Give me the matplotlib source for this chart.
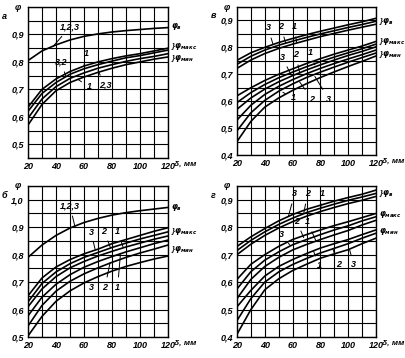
import numpy as np
import matplotlib.pyplot as plt

plt.rcParams['font.family'] = ['Liberation Sans Narrow', 'Liberation Sans', 'DejaVu Sans']
plt.rcParams['font.style'] = 'italic'
plt.rcParams['font.weight'] = 'bold'
plt.rcParams['mathtext.fontset'] = 'custom'
plt.rcParams['mathtext.rm'] = 'Liberation Sans Narrow:italic:bold'
plt.rcParams['mathtext.it'] = 'Liberation Sans Narrow:italic:bold'

delta = [20, 30, 40, 50, 60, 70, 80, 90, 100, 110, 120]

# panel a
a_phi_v = [0.805, 0.84, 0.862, 0.88, 0.893, 0.902, 0.909, 0.914, 0.918, 0.922, 0.925]
a_c1 = [0.635, 0.70, 0.738, 0.765, 0.785, 0.80, 0.812, 0.822, 0.83, 0.84, 0.85]
a_c2 = [0.62, 0.685, 0.725, 0.755, 0.775, 0.79, 0.803, 0.815, 0.823, 0.833, 0.843]
a_c3 = [0.595, 0.665, 0.71, 0.74, 0.76, 0.777, 0.79, 0.802, 0.812, 0.82, 0.83]
a_c4 = [0.57, 0.645, 0.695, 0.725, 0.745, 0.762, 0.777, 0.79, 0.80, 0.81, 0.818]

# panel v
v_phi_v3 = [0.752, 0.78, 0.80, 0.818, 0.833, 0.847, 0.86, 0.872, 0.884, 0.895, 0.908]
v_phi_v2 = [0.737, 0.767, 0.79, 0.808, 0.823, 0.837, 0.85, 0.862, 0.874, 0.885, 0.897]
v_phi_v1 = [0.722, 0.753, 0.777, 0.796, 0.812, 0.826, 0.84, 0.852, 0.864, 0.875, 0.886]
v_max3 = [0.62, 0.65, 0.677, 0.70, 0.72, 0.74, 0.758, 0.775, 0.79, 0.805, 0.822]
v_max2 = [0.595, 0.632, 0.662, 0.687, 0.708, 0.728, 0.747, 0.764, 0.78, 0.795, 0.812]
v_max1 = [0.57, 0.612, 0.645, 0.672, 0.695, 0.716, 0.735, 0.753, 0.77, 0.785, 0.802]
v_min3 = [0.53, 0.585, 0.625, 0.655, 0.68, 0.702, 0.722, 0.74, 0.757, 0.773, 0.79]
v_min2 = [0.49, 0.557, 0.603, 0.637, 0.664, 0.688, 0.708, 0.727, 0.745, 0.762, 0.779]
v_min1 = [0.45, 0.525, 0.578, 0.612, 0.64, 0.665, 0.688, 0.709, 0.729, 0.748, 0.768]

# panel b
b_phi_v = [0.79, 0.835, 0.87, 0.897, 0.917, 0.932, 0.944, 0.953, 0.96, 0.966, 0.972]
b_max3 = [0.65, 0.715, 0.755, 0.782, 0.803, 0.82, 0.84, 0.855, 0.87, 0.885, 0.898]
b_max2 = [0.628, 0.695, 0.737, 0.767, 0.79, 0.808, 0.826, 0.842, 0.857, 0.87, 0.883]
b_max1 = [0.61, 0.675, 0.72, 0.752, 0.775, 0.795, 0.812, 0.828, 0.842, 0.856, 0.868]
b_min3 = [0.577, 0.645, 0.692, 0.727, 0.754, 0.775, 0.793, 0.81, 0.825, 0.84, 0.853]
b_min2 = [0.54, 0.615, 0.667, 0.703, 0.73, 0.752, 0.772, 0.79, 0.806, 0.82, 0.835]
b_min1 = [0.504, 0.575, 0.63, 0.668, 0.697, 0.72, 0.74, 0.757, 0.771, 0.784, 0.795]

# panel g
g_phi_v3 = [0.73, 0.765, 0.795, 0.823, 0.846, 0.865, 0.88, 0.895, 0.908, 0.92, 0.935]
g_phi_v2 = [0.715, 0.752, 0.783, 0.81, 0.833, 0.853, 0.869, 0.884, 0.898, 0.91, 0.923]
g_phi_v1 = [0.70, 0.738, 0.77, 0.797, 0.82, 0.84, 0.857, 0.872, 0.886, 0.898, 0.912]
g_max3 = [0.61, 0.665, 0.70, 0.73, 0.755, 0.773, 0.79, 0.806, 0.82, 0.835, 0.85]
g_max2 = [0.575, 0.638, 0.68, 0.71, 0.736, 0.755, 0.773, 0.79, 0.805, 0.823, 0.838]
g_max1 = [0.54, 0.61, 0.657, 0.69, 0.717, 0.737, 0.755, 0.772, 0.788, 0.808, 0.825]
g_min1 = [0.51, 0.57, 0.622, 0.657, 0.682, 0.704, 0.724, 0.74, 0.755, 0.773, 0.79]
g_min2 = [0.46, 0.54, 0.60, 0.637, 0.664, 0.686, 0.706, 0.723, 0.74, 0.76, 0.778]
g_min3 = [0.41, 0.50, 0.572, 0.612, 0.642, 0.665, 0.687, 0.703, 0.718, 0.74, 0.76]

FS = 6.5


def setup(ax, ylo, yhi, ylabels, letter):
    ax.set_xlim(20, 120)
    ax.set_ylim(ylo, yhi)
    ax.set_xticks(delta)
    ax.set_xticklabels([str(d) if d % 20 == 0 else '' for d in delta], fontsize=FS)
    grid_y = np.arange(ylo, yhi + 0.001, 0.05)
    ax.set_yticks(grid_y)
    ax.set_yticklabels([('%.1f' % g).replace('.', ',') if ('%.2f' % g) in ylabels else ''
                        for g in grid_y], fontsize=FS)
    ax.tick_params(length=0, pad=3)
    ax.grid(True, color='black', lw=0.8)
    for s in ax.spines.values():
        s.set_linewidth(1.0)
    ax.text(-0.05, 1.0, 'φ', transform=ax.transAxes, ha='right', va='center', fontsize=FS)
    ax.text(-0.17, 0.94, letter, transform=ax.transAxes, ha='center', va='center', fontsize=FS)
    ax.text(1.04, -0.045, 'δ, мм', transform=ax.transAxes, ha='left', va='center', fontsize=6)


def lab(ax, text, xy, xytext):
    ax.annotate(text, xy=xy, xytext=xytext, fontsize=FS, ha='center', va='center',
                arrowprops=dict(arrowstyle='-', lw=0.7, color='black', shrinkA=2, shrinkB=0))


def side(ax, y, name, brace=False):
    txt = r'$\varphi_{%s}$' % name
    if brace:
        txt = '}' + txt
    ax.text(1.02, y, txt, transform=ax.get_yaxis_transform(), ha='left', va='center', fontsize=5.5)


fig = plt.figure(figsize=(4.06, 3.58), dpi=100)
ax_a = fig.add_axes([28 / 406, 1 - 158 / 358, 140 / 406, 151 / 358])
ax_v = fig.add_axes([237 / 406, 1 - 155 / 358, 139 / 406, 148 / 358])
ax_b = fig.add_axes([28 / 406, 1 - 337 / 358, 140 / 406, 151 / 358])
ax_g = fig.add_axes([237 / 406, 1 - 337 / 358, 139 / 406, 151 / 358])

kw = dict(color='black', lw=1.2)

# a
setup(ax_a, 0.45, 1.0, ['0.50', '0.60', '0.70', '0.80', '0.90'], 'а')
for c in [a_phi_v, a_c1, a_c2, a_c3, a_c4]:
    ax_a.plot(delta, c, **kw)
lab(ax_a, '1,2,3', (38, 0.857), (50, 0.927))
lab(ax_a, '3,2', (47, 0.748), (43.6, 0.80))
lab(ax_a, '1', (60, 0.787), (62, 0.832))
lab(ax_a, '1', (55.5, 0.737), (63.6, 0.709))
lab(ax_a, '2,3', (70, 0.768), (75, 0.716))
side(ax_a, 0.928, 'в')
side(ax_a, 0.855, 'макс', True)
side(ax_a, 0.814, 'мин', True)

# v
setup(ax_v, 0.40, 0.95, ['0.40', '0.50', '0.60', '0.70', '0.80', '0.90'], 'в')
for c in [v_phi_v3, v_phi_v2, v_phi_v1, v_max3, v_max2, v_max1, v_min3, v_min2, v_min1]:
    ax_v.plot(delta, c, **kw)
lab(ax_v, '3', (46, 0.81), (42.3, 0.872))
lab(ax_v, '2', (55, 0.816), (51.7, 0.876))
lab(ax_v, '1', (63, 0.817), (61, 0.876))
lab(ax_v, '3', (59, 0.697), (52.4, 0.764))
lab(ax_v, '2', (65.3, 0.70), (62.4, 0.772))
lab(ax_v, '1', (76, 0.735), (72.5, 0.78))
lab(ax_v, '1', (53, 0.633), (60.3, 0.612))
lab(ax_v, '2', (65, 0.672), (74, 0.608))
lab(ax_v, '3', (76, 0.692), (86, 0.608))
side(ax_v, 0.897, 'в', True)
side(ax_v, 0.82, 'макс', True)
side(ax_v, 0.775, 'мин', True)

# b
setup(ax_b, 0.50, 1.05, ['0.50', '0.60', '0.70', '0.80', '0.90', '1.00'], 'б')
for c in [b_phi_v, b_max3, b_max2, b_max1, b_min3, b_min2, b_min1]:
    ax_b.plot(delta, c, **kw)
lab(ax_b, '1,2,3', (53.5, 0.903), (50, 0.977))
lab(ax_b, '3', (68, 0.818), (65, 0.882))
lab(ax_b, '2', (79, 0.824), (74.3, 0.886))
lab(ax_b, '1', (88, 0.826), (84, 0.886))
lab(ax_b, '3', (71, 0.722), (65, 0.682))
lab(ax_b, '2', (78.6, 0.77), (75, 0.682))
lab(ax_b, '1', (86, 0.80), (84, 0.682))
side(ax_b, 0.972, 'в')
side(ax_b, 0.886, 'макс', True)
side(ax_b, 0.82, 'мин', True)

# g
setup(ax_g, 0.40, 0.95, ['0.40', '0.50', '0.60', '0.70', '0.80', '0.90'], 'г')
for c in [g_phi_v3, g_phi_v2, g_phi_v1, g_max3, g_max2, g_max1, g_min1, g_min2, g_min3]:
    ax_g.plot(delta, c, **kw)
lab(ax_g, '3', (57, 0.84), (61.4, 0.921))
lab(ax_g, '2', (68, 0.85), (70.7, 0.921))
lab(ax_g, '1', (80, 0.857), (81.4, 0.921))
lab(ax_g, '2', (68, 0.762), (62.9, 0.822))
lab(ax_g, '1', (77, 0.748), (70.7, 0.819))
lab(ax_g, '3', (58, 0.735), (52, 0.775))
lab(ax_g, '1', (75, 0.714), (79, 0.659))
lab(ax_g, '2', (89, 0.72), (93, 0.663))
lab(ax_g, '3', (101, 0.718), (104, 0.663))
side(ax_g, 0.923, 'в', True)
side(ax_g, 0.845, 'макс')
side(ax_g, 0.786, 'мин')

fig.savefig('out.png', dpi=100)
